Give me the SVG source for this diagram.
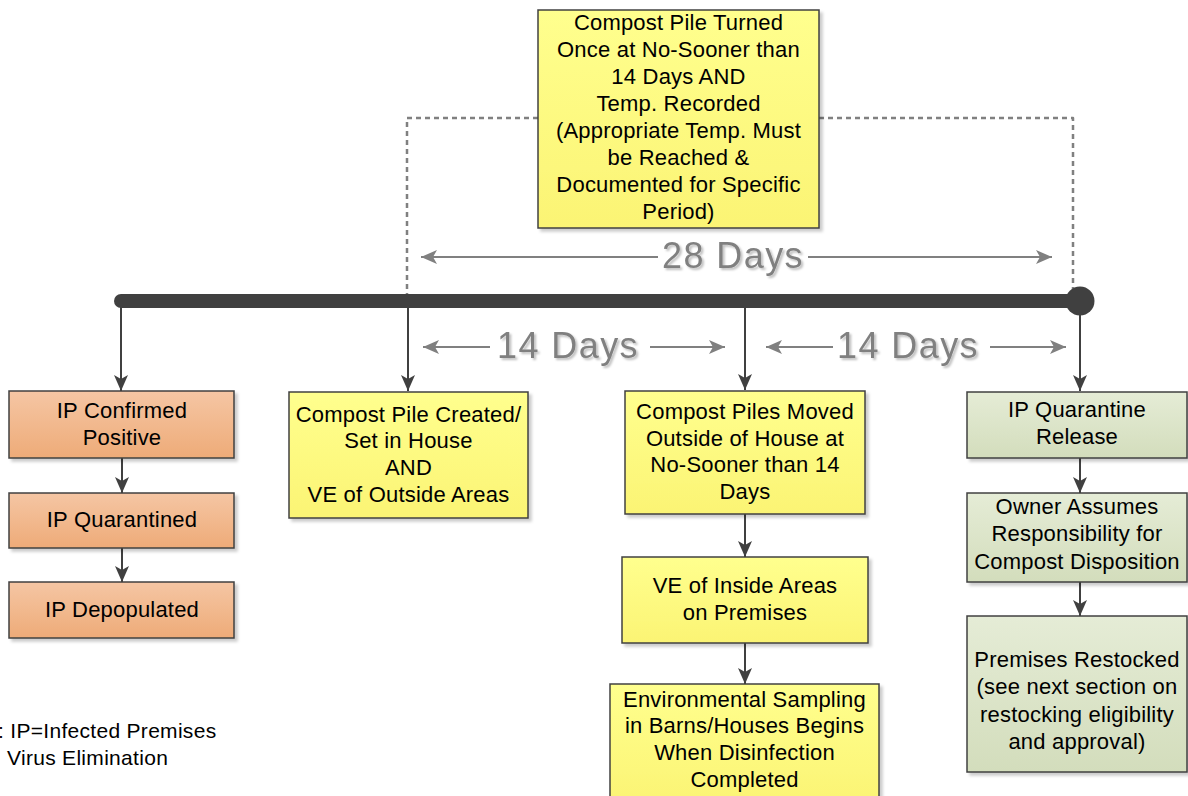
<svg xmlns="http://www.w3.org/2000/svg" width="1188" height="796" viewBox="0 0 1188 796">
<defs>
<style>
.box{stroke:#404040;stroke-width:1.5;filter:url(#sh)}
.t{font-family:"Liberation Sans",Arial,sans-serif;font-size:22px;letter-spacing:0.2px;fill:#000;text-anchor:middle}
.days{font-family:"Liberation Sans",Arial,sans-serif;font-size:36px;letter-spacing:1.4px;fill:#808080;text-anchor:middle;filter:url(#tsh)}
.leg{font-family:"Liberation Sans",Arial,sans-serif;font-size:21px;letter-spacing:0.3px;fill:#000}
.dk{stroke:#404040;stroke-width:2;fill:none;marker-end:url(#ad)}
.gy{stroke:#808080;stroke-width:2;fill:none;marker-end:url(#ag)}
.dash{stroke:#808080;stroke-width:2.5;fill:none;stroke-dasharray:5 4;stroke-linejoin:round}
</style>
<linearGradient id="gO" x1="0" y1="0" x2="0" y2="1"><stop offset="0" stop-color="#f5c6a4"/><stop offset="1" stop-color="#eeab78"/></linearGradient>
<linearGradient id="gY" x1="0" y1="0" x2="0" y2="1"><stop offset="0" stop-color="#ffff8e"/><stop offset="1" stop-color="#fbf474"/></linearGradient>
<linearGradient id="gG" x1="0" y1="0" x2="0" y2="1"><stop offset="0" stop-color="#e5ecd6"/><stop offset="1" stop-color="#d3ddbc"/></linearGradient>
<filter id="sh" x="-10%" y="-10%" width="130%" height="130%"><feDropShadow dx="3" dy="3" stdDeviation="1.5" flood-color="#000" flood-opacity="0.2"/></filter>
<filter id="tsh" x="-10%" y="-20%" width="130%" height="150%"><feDropShadow dx="2" dy="2" stdDeviation="1.2" flood-color="#000" flood-opacity="0.25"/></filter>
<marker id="ad" viewBox="0 0 16 16" refX="16" refY="8" markerWidth="16" markerHeight="16" markerUnits="userSpaceOnUse" orient="auto"><path d="M0,1 L16,8 L0,15 L4,8 Z" fill="#404040"/></marker>
<marker id="ag" viewBox="0 0 16 16" refX="16" refY="8" markerWidth="16" markerHeight="16" markerUnits="userSpaceOnUse" orient="auto"><path d="M0,1 L16,8 L0,15 L4,8 Z" fill="#808080"/></marker>
</defs>

<g id="connectors">
<path class="dash" d="M538,118 H407 V297"/>
<path class="dash" d="M819,118 H1073 V295"/>
<line x1="121" y1="301" x2="1080" y2="301" stroke="#404040" stroke-width="14" stroke-linecap="round"/>
<circle cx="1080" cy="301" r="14.5" fill="#404040"/>
<line class="dk" x1="121" y1="306" x2="121" y2="391"/>
<line class="dk" x1="408" y1="306" x2="408" y2="391"/>
<line class="dk" x1="745" y1="306" x2="745" y2="390"/>
<line class="dk" x1="1080" y1="312" x2="1080" y2="391"/>
<line class="dk" x1="122" y1="458" x2="122" y2="493"/>
<line class="dk" x1="122" y1="548" x2="122" y2="582"/>
<line class="dk" x1="745" y1="514" x2="745" y2="557"/>
<line class="dk" x1="745" y1="643" x2="745" y2="684"/>
<line class="dk" x1="1080" y1="458" x2="1080" y2="493"/>
<line class="dk" x1="1080" y1="582" x2="1080" y2="616"/>
<line class="gy" x1="658" y1="257" x2="421" y2="257"/>
<line class="gy" x1="808" y1="257" x2="1052" y2="257"/>
<line class="gy" x1="490" y1="347" x2="423" y2="347"/>
<line class="gy" x1="650" y1="347" x2="725" y2="347"/>
<line class="gy" x1="833" y1="347" x2="766" y2="347"/>
<line class="gy" x1="990" y1="347" x2="1066" y2="347"/>
<text class="days" x="733" y="268">28 Days</text>
<text class="days" x="568" y="358">14 Days</text>
<text class="days" x="908" y="358">14 Days</text>
</g>

<g id="top">
<rect class="box" x="538" y="10" width="281" height="218" fill="url(#gY)"/>
<text class="t" x="678.5" y="30">Compost Pile Turned</text>
<text class="t" x="678.5" y="57">Once at No-Sooner than</text>
<text class="t" x="678.5" y="84">14 Days AND</text>
<text class="t" x="678.5" y="111">Temp. Recorded</text>
<text class="t" x="678.5" y="138">(Appropriate Temp. Must</text>
<text class="t" x="678.5" y="165">be Reached &amp;</text>
<text class="t" x="678.5" y="192">Documented for Specific</text>
<text class="t" x="678.5" y="219">Period)</text>
</g>

<g id="ip-confirmed">
<rect class="box" x="9" y="391" width="225" height="67" fill="url(#gO)"/>
<text class="t" x="122" y="418">IP Confirmed</text>
<text class="t" x="122" y="445">Positive</text>
</g>
<g id="ip-quarantined">
<rect class="box" x="9" y="493" width="225" height="55" fill="url(#gO)"/>
<text class="t" x="122" y="527">IP Quarantined</text>
</g>
<g id="ip-depopulated">
<rect class="box" x="9" y="582" width="225" height="56" fill="url(#gO)"/>
<text class="t" x="122" y="617">IP Depopulated</text>
</g>

<g id="compost-created">
<rect class="box" x="289" y="392" width="239" height="126" fill="url(#gY)"/>
<text class="t" x="408.5" y="422">Compost Pile Created/</text>
<text class="t" x="408.5" y="448">Set in House</text>
<text class="t" x="408.5" y="475">AND</text>
<text class="t" x="408.5" y="502">VE of Outside Areas</text>
</g>

<g id="compost-moved">
<rect class="box" x="625" y="391" width="240" height="123" fill="url(#gY)"/>
<text class="t" x="745" y="419">Compost Piles Moved</text>
<text class="t" x="745" y="446">Outside of House at</text>
<text class="t" x="745" y="472">No-Sooner than 14</text>
<text class="t" x="745" y="499">Days</text>
</g>

<g id="ve-inside">
<rect class="box" x="622" y="557" width="246" height="86" fill="url(#gY)"/>
<text class="t" x="745" y="593">VE of Inside Areas</text>
<text class="t" x="745" y="620">on Premises</text>
</g>

<g id="env-sampling">
<rect class="box" x="610" y="684" width="269" height="120" fill="url(#gY)"/>
<text class="t" x="744.5" y="707">Environmental Sampling</text>
<text class="t" x="744.5" y="733">in Barns/Houses Begins</text>
<text class="t" x="744.5" y="760">When Disinfection</text>
<text class="t" x="744.5" y="787">Completed</text>
</g>

<g id="ip-release">
<rect class="box" x="967" y="392" width="220" height="66" fill="url(#gG)"/>
<text class="t" x="1077" y="417">IP Quarantine</text>
<text class="t" x="1077" y="444">Release</text>
</g>

<g id="owner">
<rect class="box" x="967" y="493" width="220" height="89" fill="url(#gG)"/>
<text class="t" x="1077" y="514">Owner Assumes</text>
<text class="t" x="1077" y="541">Responsibility for</text>
<text class="t" x="1077" y="569">Compost Disposition</text>
</g>

<g id="restocked">
<rect class="box" x="967" y="616" width="220" height="156" fill="url(#gG)"/>
<text class="t" x="1077" y="667">Premises Restocked</text>
<text class="t" x="1077" y="694">(see next section on</text>
<text class="t" x="1077" y="722">restocking eligibility</text>
<text class="t" x="1077" y="749">and approval)</text>
</g>

<g id="legend">
<text class="leg" x="-2" y="738">: IP=Infected Premises</text>
<text class="leg" x="7" y="765">Virus Elimination</text>
</g>
</svg>
